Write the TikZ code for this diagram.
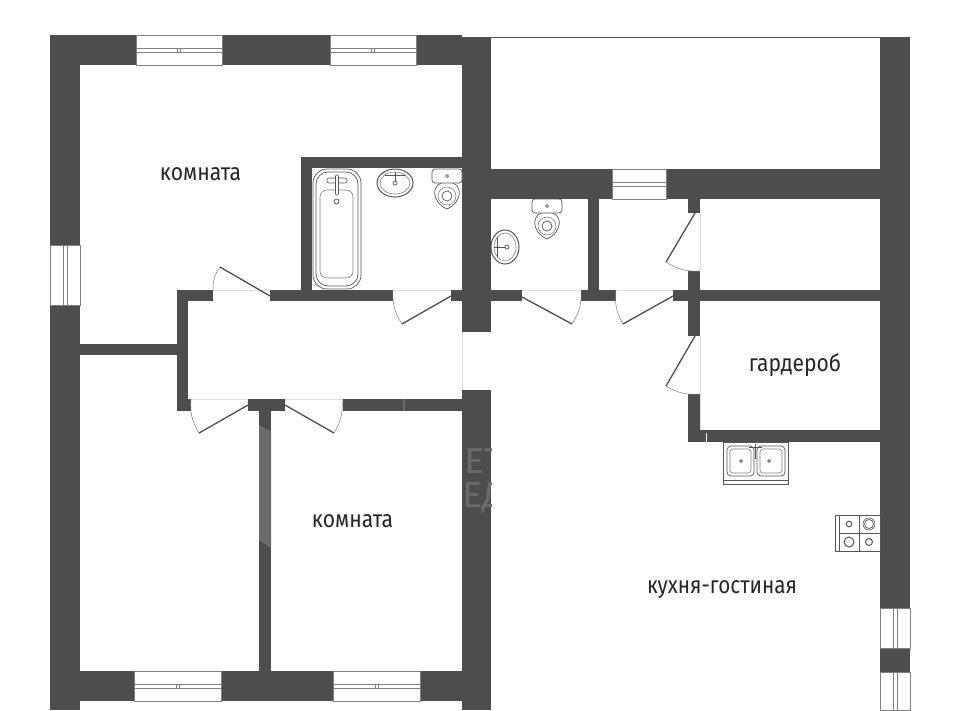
\documentclass[tikz,border=0pt]{standalone}
\usepackage{fontspec}
\setmainfont{Fira Sans}
\definecolor{wallgray}{HTML}{4D4D4D}
\definecolor{markgray}{HTML}{6A6A6A}
\definecolor{fixgray}{HTML}{555555}
\tikzset{
  wall/.style={fill=wallgray,draw=none},
  leaf/.style={draw=wallgray,line width=1.3pt},
  swing/.style={draw=gray,line width=0.5pt},
  sill/.style={draw=black!12,line width=0.5pt},
  fix/.style={draw=fixgray,line width=0.7pt,fill=white},
  fixthin/.style={draw=gray,line width=0.6pt},
  pane/.style={draw=gray,line width=0.6pt,fill=white},
  roomlabel/.style={text=black!85,font=\fontsize{24}{28}\selectfont,xscale=.88,inner sep=0pt},
  marklabel/.style={text=markgray,font=\fontsize{36}{40}\selectfont,xscale=1.05,inner sep=0pt,anchor=west}
}
\begin{document}
\begin{tikzpicture}[x=1pt,y=-1pt]
    \useasboundingbox (0,0) rectangle (960,710);
    \fill[white] (0,0) rectangle (960,710);

    % outer walls
    \fill[wall] (50,35) rectangle (80,710);
    \fill[wall] (50,35) rectangle (136,65);
    \fill[wall] (222,35) rectangle (330,65);
    \fill[wall] (416,35) rectangle (462,65);
    \fill[wall] (462,37) rectangle (491,332);
    \fill[wall] (462,390) rectangle (491,710);
    \fill[wall] (880,37) rectangle (910,608);
    \fill[wall] (880,648) rectangle (910,672);
    \fill[wall] (50,671) rectangle (134,701);
    \fill[wall] (221,671) rectangle (333,701);
    \fill[wall] (420,671) rectangle (491,701);
    \fill[wall] (491,169) rectangle (612,199);
    \fill[wall] (666,169) rectangle (880,199);
    \draw[wallgray,line width=.8pt] (491,37) -- (880,37);

    % inner walls, left part
    \fill[wall] (301,157) rectangle (462,168);
    \fill[wall] (301,157) rectangle (312,290);
    \fill[wall] (177,290) rectangle (213,301);
    \fill[wall] (270,290) rectangle (393,301);
    \fill[wall] (451,290) rectangle (462,301);
    \fill[wall] (177,290) rectangle (188,411);
    \fill[wall] (80,344) rectangle (177,355);
    \fill[wall] (177,399) rectangle (191,411);
    \fill[wall] (248,399) rectangle (285,411);
    \fill[wall] (343,399) rectangle (462,411);
    \fill[wall] (259,411) rectangle (271,671);

    % inner walls, right part
    \fill[wall] (491,290) rectangle (522,301);
    \fill[wall] (581,290) rectangle (616,301);
    \fill[wall] (673,290) rectangle (880,301);
    \fill[wall] (588,199) rectangle (599,290);
    \fill[wall] (688,199) rectangle (700,213);
    \fill[wall] (688,271) rectangle (700,336);
    \fill[wall] (688,394) rectangle (700,442);
    \fill[wall] (688,430) rectangle (880,442);

    % watermark showing on the walls
    \fill[markgray] (259,425) -- (271,431) -- (271,548) -- (259,540) -- cycle;
    \fill[markgray] (402.5,399) rectangle (404.5,411);
    \begin{scope}
      \clip (462,400) rectangle (491,600);
      \node[marklabel] (markA) at (464,461) {ЕТ};
      \node[marklabel] (markB) at (462,498) {ЕД};
    \end{scope}
    \draw[white,line width=.5pt] (706,433) -- (706,442);

    % windows
    \foreach \xa/\xb/\ya/\yb in {136/222/35/65,330/416/35/65,134/221/671/701,333/420/671/701}{
      \draw[pane] (\xa,\ya) rectangle (\xb,\yb);
      \draw[pane,line width=.5pt] (\xa,{(\ya+\yb)/2-2}) rectangle (\xb,{(\ya+\yb)/2+2});
      \draw[gray,line width=.5pt] ({(\xa+\xb)/2-1.5},{(\ya+\yb)/2-2}) -- ++(0,4) ++(3,-4) -- ++(0,4);
    }
    \foreach \xa/\xb/\ya/\yb in {50/80/245/305,880/910/608/648,880/910/672/710}{
      \draw[pane] (\xa,\ya) rectangle (\xb,\yb);
      \draw[pane,line width=.5pt] ({(\xa+\xb)/2-2},\ya) rectangle ({(\xa+\xb)/2+2},\yb);
    }
    \draw[pane] (612,169) rectangle (666,199);
    \draw[pane,line width=.5pt] (612,182) rectangle (666,186);

    % doors
    \draw[sill] (213,290) -- (270,290);
    \draw[sill] (393,290) -- (451,290);
    \draw[sill] (191,399) -- (248,399) (285,399) -- (343,399);
    \draw[sill] (522,290) -- (581,290);
    \draw[sill] (616,290) -- (673,290);
    \draw[sill] (700,213) -- (700,271) (700,336) -- (700,430);
    \draw[sill] (462,332) -- (462,390);

    \draw[leaf] (270,296) -- (220,267);
    \draw[swing] (220,267) to[bend right=18] (213,290);
    \draw[leaf] (451,296) -- (402,324);
    \draw[swing] (402,324) to[bend left=18] (393,290);
    \draw[leaf] (248,405) -- (199,433);
    \draw[swing] (199,433) to[bend left=18] (191,399);
    \draw[leaf] (285,405) -- (334,433);
    \draw[swing] (334,433) to[bend right=18] (342,399);
    \draw[leaf] (522,297) -- (572,324);
    \draw[swing] (572,324) to[bend right=18] (581,290);
    \draw[leaf] (673,296) -- (623,324);
    \draw[swing] (623,324) to[bend left=18] (616,290);
    \draw[leaf] (695,213) -- (666,262);
    \draw[swing] (666,262) to[bend right=18] (700,271);
    \draw[leaf] (695,336) -- (666,386);
    \draw[swing] (666,386) to[bend right=18] (700,394);

    % bath
    \draw[fix,rounded corners=14pt] (313,169) rectangle (361,289);
    \draw[fix,rounded corners=12pt] (316,172) rectangle (358,286);
    \draw[fixthin,rounded corners=7pt] (320,190) rectangle (353,278);
    \draw[fix,rounded corners=2pt,line width=.6pt] (327,178) rectangle (347,183);
    \draw[fix,rounded corners=1pt,line width=.6pt] (335.5,175) rectangle (338.5,195);
    \draw[fix] (336.5,201.5) circle (2.5pt);

    % basins and toilets
    \draw[fix,line width=1pt] (395,183) ellipse (18pt and 14pt);
    \draw[fixthin] (395,183) ellipse (15pt and 11pt);
    \draw[fix] (385,175) -- (405,175) (395,172) -- (395,184);
    \draw[fix] (395,183) circle (2pt);
    \draw[fix,line width=1pt] (505,247) ellipse (14pt and 17pt);
    \draw[fixthin] (505,247) ellipse (11pt and 14pt);
    \draw[fix] (497,237) -- (497,257) (494,247) -- (507,247);
    \draw[fix] (507,247) circle (2pt);
    \foreach \cx/\cy in {447/182,547/212}{
      \draw[fix] (\cx,\cy) .. controls (\cx+17,\cy) and (\cx+16,\cy+20) .. (\cx,\cy+27)
        .. controls (\cx-16,\cy+20) and (\cx-17,\cy) .. (\cx,\cy);
      \draw[fix,rounded corners=3pt] (\cx-15,\cy-13) rectangle (\cx+15,\cy+1);
      \draw[fix] (\cx,\cy-6) circle (1.5pt);
      \draw[fix] (\cx,\cy+14) circle (5pt);
      \draw[fixthin] (\cx,\cy+14) circle (9pt);
    }

    % kitchen sink and stove
    \draw[fix,line width=1pt] (723,442) rectangle (788,484);
    \draw[fix] (723,480) -- (788,480);
    \draw[fix,rounded corners=4pt] (727,446) rectangle (754,476);
    \draw[fix,rounded corners=4pt] (757,446) rectangle (785,476);
    \draw[fixthin,rounded corners=3pt] (730,449) rectangle (751,473);
    \draw[fixthin,rounded corners=3pt] (760,449) rectangle (782,473);
    \draw[fix] (741,461) circle (1.3pt) (769,461) circle (1.3pt);
    \draw[fix] (749,447) -- (762,447) (755.5,444) -- (755.5,459);
    \draw[fix] (835,515) rectangle (880,551);
    \draw[fix] (839,515) -- (839,551) (859,515) -- (859,551) (839,533) -- (880,533);
    \draw[fix,line width=1pt] (849,524) circle (2.8pt);
    \draw[fix,line width=.6pt] (869,524) circle (6pt);
    \draw[fix] (869,524) circle (4.5pt);
    \draw[fix,line width=1pt] (849,542) circle (5pt);
    \draw[fix,line width=1pt] (869,542) circle (3.5pt);

    % room names
    \node[roomlabel] (roomA) at (200.5,174) {комната};
    \node[roomlabel] (roomB) at (352.5,521) {комната};
    \node[roomlabel] (closet) at (795,365) {гардероб};
    \node[roomlabel,xscale=.98] (kitchen) at (722,590) {кухня-гостиная};
\end{tikzpicture}
\end{document}
